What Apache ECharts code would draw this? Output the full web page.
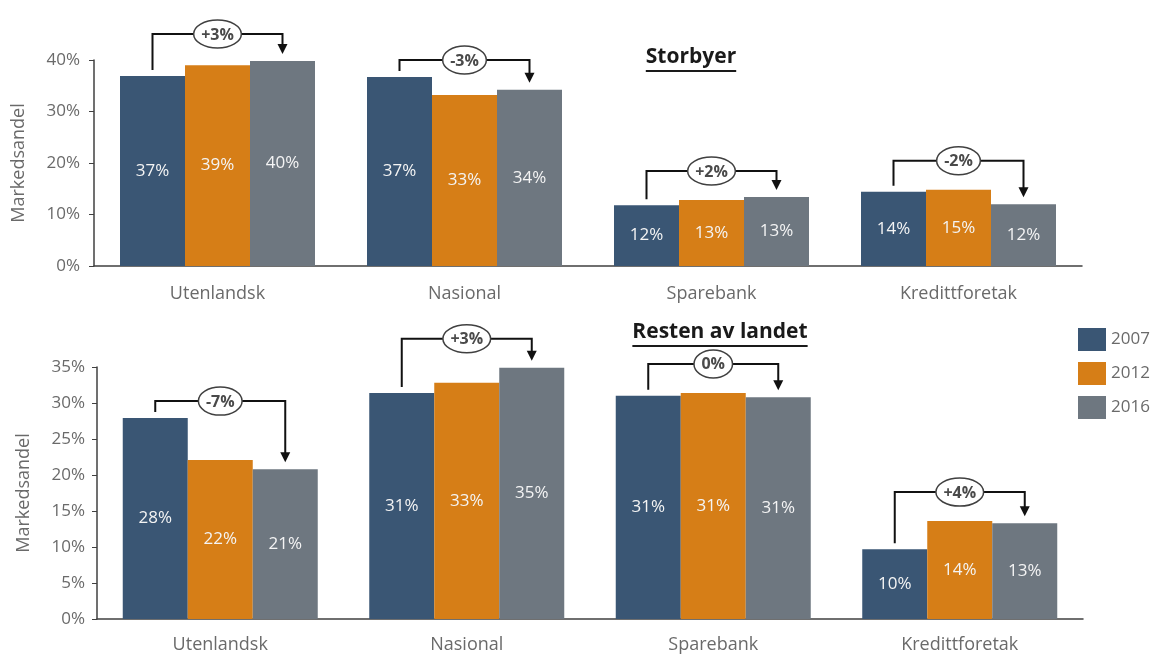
<!DOCTYPE html>
<html>
<head>
<meta charset="utf-8">
<script src="https://cdn.jsdelivr.net/npm/echarts@6/dist/echarts.min.js"></script>
<style>
html,body{margin:0;padding:0;background:#fff;}
#c{width:1153px;height:654px;}
</style>
</head>
<body>
<div id="c"></div>
<script>
// ---------- DATA ----------
const categories = ['Utenlandsk', 'Nasional', 'Sparebank', 'Kredittforetak'];
const years = ['2007', '2012', '2016'];

const storbyer2007 = [36.9, 36.7, 11.8, 14.4];
const storbyer2012 = [39.0, 33.2, 12.8, 14.8];
const storbyer2016 = [39.8, 34.2, 13.4, 12.0];
const storbyerChange = ['+3%', '-3%', '+2%', '-2%'];

const resten2007 = [27.9, 31.4, 31.0, 9.7];
const resten2012 = [22.1, 32.8, 31.4, 13.6];
const resten2016 = [20.8, 34.9, 30.8, 13.3];
const restenChange = ['-7%', '+3%', '0%', '+4%'];

const topTicks = {min: 0, max: 40, interval: 10};
const bottomTicks = {min: 0, max: 35, interval: 5};

// ---------- STYLE ----------
const colors = ['#3A5674', '#D67E17', '#6E7780'];
const FONT = '"Open Sans", "DejaVu Sans", sans-serif';
const GREY = '#6a6a6a';
const AXIS = '#404040';
const BAR_W = 65;
// bracket height above highest bar in each group (px)
const topLift = [27, 17, 26, 29];
const bottomLift = [17, 29, 29, 29];

const measureCtx = document.createElement('canvas').getContext('2d');
function textWidth(t, font) { measureCtx.font = font; return measureCtx.measureText(t).width; }

function bracketSeries(xi, yi, a, b, c, labels, lifts) {
  const data = categories.map((_, i) => [i, a[i], c[i], Math.max(a[i], b[i], c[i]), i]);
  return {
    type: 'custom', xAxisIndex: xi, yAxisIndex: yi, clip: false, silent: true, z: 10,
    encode: {x: 0, y: 3},
    data: data,
    renderItem: function (params, api) {
      const idx = api.value(0);
      const k = api.value(4);
      const cx = api.coord([idx, 0])[0];
      const yA = api.coord([idx, api.value(1)])[1];
      const yC = api.coord([idx, api.value(2)])[1];
      const yM = api.coord([idx, api.value(3)])[1];
      const level = yM - lifts[k];
      const xl = cx - BAR_W, xr = cx + BAR_W;
      const tip = yC - 7;
      const lbl = labels[k];
      const lfont = 'bold 16px ' + FONT;
      const rx = Math.max(textWidth(lbl, lfont) + 15, 35) / 2;
      const ry = 14;
      return {
        type: 'group',
        children: [
          {type: 'polyline', shape: {points: [[xl, yA - 6], [xl, level], [xr, level], [xr, tip - 9]]},
           style: {stroke: '#111', lineWidth: 2, fill: null}},
          {type: 'polygon', shape: {points: [[xr - 5, tip - 10], [xr + 5, tip - 10], [xr, tip]]},
           style: {fill: '#111'}},
          {type: 'ellipse', shape: {cx: cx, cy: level, rx: rx, ry: ry},
           style: {fill: '#fff', stroke: '#404040', lineWidth: 1.5}},
          {type: 'text', x: cx, y: level + 1,
           style: {text: lbl, font: lfont, fill: '#4a4a4a', align: 'center', verticalAlign: 'middle'}}
        ]
      };
    }
  };
}

function barSeries(name, data, xi, yi, color) {
  return {
    name: name, type: 'bar', xAxisIndex: xi, yAxisIndex: yi, data: data,
    barWidth: BAR_W, barGap: '0%',
    itemStyle: {color: color},
    label: {show: true, position: 'inside', color: '#f4f4f4', fontFamily: FONT, fontSize: 17,
            formatter: p => Math.round(p.value) + '%'}
  };
}

function xAxis(gi, margin) {
  return {
    type: 'category', gridIndex: gi, data: categories,
    axisLine: {lineStyle: {color: AXIS, width: 1.5}},
    axisTick: {show: false},
    axisLabel: {color: GREY, fontFamily: FONT, fontSize: 18, margin: margin}
  };
}
function yAxis(gi, ticks, nameGap, margin) {
  return {
    type: 'value', gridIndex: gi, min: ticks.min, max: ticks.max, interval: ticks.interval,
    name: 'Markedsandel', nameLocation: 'middle', nameRotate: 90, nameGap: nameGap,
    nameTextStyle: {color: GREY, fontFamily: FONT, fontSize: 18},
    axisLine: {show: true, lineStyle: {color: AXIS, width: 1.5}},
    axisTick: {show: true, length: 5, lineStyle: {color: AXIS}},
    splitLine: {show: false},
    axisLabel: {color: GREY, fontFamily: FONT, fontSize: 17, margin: margin, formatter: '{value}%'}
  };
}

const titleFont = 'bold 21px ' + FONT;
function titleGraphic(text, cx, baseline) {
  const w = textWidth(text, titleFont);
  return [
    {type: 'text', x: cx, y: baseline, style: {text: text, font: titleFont, fill: '#1a1a1a', align: 'center', verticalAlign: 'bottom'}},
    {type: 'line', shape: {x1: cx - w / 2, y1: baseline + 3, x2: cx + w / 2, y2: baseline + 3},
     style: {stroke: '#1a1a1a', lineWidth: 2}}
  ];
}

const chart = echarts.init(document.getElementById('c'), null, {renderer: 'canvas'});
chart.setOption({
  animation: false,
  color: colors,
  grid: [
    {left: 94, top: 60, width: 988, height: 206, outerBoundsMode: 'none', containLabel: false},
    {left: 97, top: 367, width: 986, height: 252, outerBoundsMode: 'none', containLabel: false}
  ],
  xAxis: [xAxis(0, 19), xAxis(1, 17)],
  yAxis: [yAxis(0, topTicks, 66, 14), yAxis(1, bottomTicks, 64, 12)],
  legend: {
    orient: 'vertical', left: 1073, top: 323, itemWidth: 28, itemHeight: 23, itemGap: 11,
    icon: 'rect', data: years, textStyle: {color: GREY, fontFamily: FONT, fontSize: 17}
  },
  graphic: [].concat(titleGraphic('Storbyer', 691, 68), titleGraphic('Resten av landet', 720, 343)),
  series: [
    barSeries('2007', storbyer2007, 0, 0, colors[0]),
    barSeries('2012', storbyer2012, 0, 0, colors[1]),
    barSeries('2016', storbyer2016, 0, 0, colors[2]),
    barSeries('2007', resten2007, 1, 1, colors[0]),
    barSeries('2012', resten2012, 1, 1, colors[1]),
    barSeries('2016', resten2016, 1, 1, colors[2]),
    bracketSeries(0, 0, storbyer2007, storbyer2012, storbyer2016, storbyerChange, topLift),
    bracketSeries(1, 1, resten2007, resten2012, resten2016, restenChange, bottomLift)
  ]
});
</script>
</body>
</html>
